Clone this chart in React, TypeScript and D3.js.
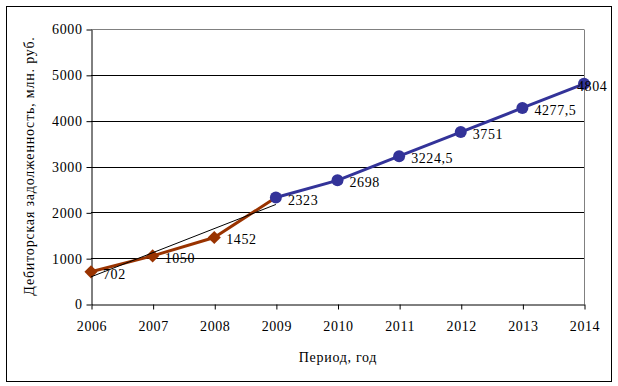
import React, { useRef, useEffect } from 'react';
import * as d3 from 'd3';

// ==================== DATA ====================
const YEARS = ['2006', '2007', '2008', '2009', '2010', '2011', '2012', '2013', '2014'];
const FACT_YEARS = ['2006', '2007', '2008', '2009'];
const FACT_VALUES = [702, 1050, 1452, 2323];
const PLAN_YEARS = ['2009', '2010', '2011', '2012', '2013', '2014'];
const PLAN_VALUES = [2323, 2698, 3224.5, 3751, 4277.5, 4804];
const PLAN_LABELS = ['2323', '2698', '3224,5', '3751', '4277,5', '4804'];
const FACT_LABELS = ['702', '1050', '1452'];
const Y_TICKS = [0, 1000, 2000, 3000, 4000, 5000, 6000];

const COLORS = {
    fact: '#993300',
    plan: '#333399',
    grid: '#000000',
    frame: '#808080',
    text: '#000000'
};

const W = 618;
const H = 386;
const FONT = "'Liberation Serif', 'Times New Roman', serif";

const App = () => {
    const svgRef = useRef<SVGSVGElement | null>(null);

    useEffect(() => {
        const svg = d3.select(svgRef.current);
        svg.selectAll('*').remove();

        const x = d3.scalePoint<string>().domain(YEARS).range([91, 584]);
        const y = d3.scaleLinear().domain([0, 6000]).range([304, 29]);

        // outer chart border
        svg.append('rect')
            .attr('x', 6.5).attr('y', 6.5)
            .attr('width', 605).attr('height', 375)
            .attr('fill', '#fff').attr('stroke', '#000').attr('stroke-width', 1);

        const g = svg.append('g');

        // gridlines
        g.selectAll('.grid')
            .data(Y_TICKS.filter(t => t > 0))
            .enter()
            .append('line')
            .attr('x1', 91).attr('x2', 584)
            .attr('y1', d => Math.round(y(d)) + 0.5)
            .attr('y2', d => Math.round(y(d)) + 0.5)
            .attr('stroke', d => d === 6000 ? COLORS.frame : COLORS.grid)
            .attr('stroke-width', 1);

        // right frame
        g.append('line')
            .attr('x1', 584.5).attr('x2', 584.5)
            .attr('y1', Math.round(y(6000)) + 0.5).attr('y2', y(0))
            .attr('stroke', COLORS.frame);

        // y axis
        const yAxis = g.append('g')
            .attr('transform', 'translate(91.5,0.5)')
            .call(d3.axisLeft(y).tickValues(Y_TICKS).tickFormat(d3.format('d')).tickSize(5).tickSizeOuter(0).tickPadding(4));
        yAxis.select('.domain').attr('stroke', '#000');
        yAxis.selectAll('text')
            .attr('font-family', FONT).attr('font-size', 14)
            .attr('letter-spacing', '0.6px')
            .attr('fill', COLORS.text);

        // x axis
        const xAxis = g.append('g')
            .attr('transform', `translate(0.5,${Math.round(y(0)) + 0.5})`)
            .call(d3.axisBottom(x).tickSize(5).tickSizeOuter(0).tickPadding(12));
        xAxis.select('.domain').attr('stroke', '#000');
        xAxis.selectAll('text')
            .attr('font-family', FONT).attr('font-size', 14)
            .attr('letter-spacing', '0.6px')
            .attr('fill', COLORS.text);

        // axis titles
        svg.append('text')
            .attr('transform', 'translate(34,166) rotate(-90)')
            .attr('text-anchor', 'middle')
            .attr('font-family', FONT).attr('font-size', 14)
            .attr('letter-spacing', '0.8px')
            .attr('fill', COLORS.text)
            .text('Дебиторская задолженность, млн. руб.');

        svg.append('text')
            .attr('x', 338).attr('y', 362)
            .attr('text-anchor', 'middle')
            .attr('font-family', FONT).attr('font-size', 14)
            .attr('letter-spacing', '0.7px')
            .attr('fill', COLORS.text)
            .text('Период, год');

        const line = d3.line<[string, number]>()
            .x(d => x(d[0]) as number)
            .y(d => y(d[1]));

        const fact: [string, number][] = FACT_YEARS.map((yr, i) => [yr, FACT_VALUES[i]]);
        const plan: [string, number][] = PLAN_YEARS.map((yr, i) => [yr, PLAN_VALUES[i]]);

        // fact series
        g.append('path')
            .attr('d', line(fact))
            .attr('fill', 'none')
            .attr('stroke', COLORS.fact)
            .attr('stroke-width', 3)
            .attr('stroke-linejoin', 'round');

        g.selectAll('.diamond')
            .data(fact.slice(0, 3))
            .enter()
            .append('path')
            .attr('d', d3.symbol().type(d3.symbolDiamond2).size(110))
            .attr('transform', d => `translate(${x(d[0])},${y(d[1])})`)
            .attr('fill', COLORS.fact);

        // linear trend of the fact series
        const xi = FACT_VALUES.map((_, i) => i);
        const mx = d3.mean(xi) as number;
        const my = d3.mean(FACT_VALUES) as number;
        const slope = d3.sum(xi, (v, i) => (v - mx) * (FACT_VALUES[i] - my)) / d3.sum(xi, v => (v - mx) ** 2);
        const icpt = my - slope * mx;
        g.append('line')
            .attr('x1', x(FACT_YEARS[0]) as number)
            .attr('y1', y(icpt))
            .attr('x2', x(FACT_YEARS[3]) as number)
            .attr('y2', y(icpt + slope * 3))
            .attr('stroke', '#000')
            .attr('stroke-width', 1);

        // plan series
        g.append('path')
            .attr('d', line(plan))
            .attr('fill', 'none')
            .attr('stroke', COLORS.plan)
            .attr('stroke-width', 3);

        g.selectAll('.dot')
            .data(plan)
            .enter()
            .append('circle')
            .attr('cx', d => x(d[0]) as number)
            .attr('cy', d => y(d[1]))
            .attr('r', 6)
            .attr('fill', COLORS.plan);

        // data labels
        const labels = [
            ...fact.slice(0, 3).map((d, i) => ({ d, t: FACT_LABELS[i] })),
            ...plan.map((d, i) => ({ d, t: PLAN_LABELS[i] }))
        ];
        g.selectAll('.lbl')
            .data(labels)
            .enter()
            .append('text')
            .attr('x', l => {
                const px = x(l.d[0]) as number;
                return px + 12 > 570 ? px - 7 : px + 12;
            })
            .attr('y', l => y(l.d[1]) + 7)
            .attr('font-family', FONT).attr('font-size', 14)
            .attr('letter-spacing', '0.6px')
            .attr('fill', COLORS.text)
            .text(l => l.t);
    }, []);

    return (
        <svg
            ref={svgRef}
            width={W}
            height={H}
            style={{ position: 'absolute', left: 0, top: 0, background: '#fff', display: 'block' }}
        />
    );
};

export default App;
